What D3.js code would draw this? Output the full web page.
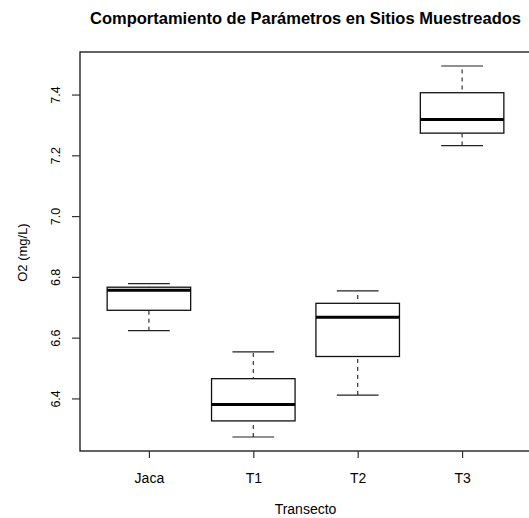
<!DOCTYPE html>
<html>
<head>
<meta charset="utf-8">
<script src="https://cdn.jsdelivr.net/npm/d3@7"></script>
<style>
  body { margin: 0; background: #fff; }
  text { font-family: "Liberation Sans", Arial, sans-serif; fill: #000; }
</style>
</head>
<body>
<div class="chart"></div>
<script>
// sites and five-number summaries
const sites = ["Jaca", "T1", "T2", "T3"];
const lowWhisker = [6.623, 6.273, 6.411, 7.232];
const q1 = [6.690, 6.326, 6.538, 7.273];
const medians = [6.756, 6.380, 6.667, 7.318];
const q3 = [6.766, 6.465, 6.713, 7.406];
const highWhisker = [6.778, 6.553, 6.754, 7.494];
const yTicks = [6.4, 6.6, 6.8, 7.0, 7.2, 7.4];

const width = 529, height = 518;
const margin = ({ top: 52, right: -2, bottom: 67, left: 80 });

const boxes = sites.map((s, i) => ({
    site: s, lo: lowWhisker[i], q1: q1[i], med: medians[i], q3: q3[i], hi: highWhisker[i]
}));

const svg = d3.select(".chart")
    .append("svg")
    .attr("width", width)
    .attr("height", height);

// R style: categories at 1..n, range 0.5..n+0.5 padded by 4%
const x = d3.scaleLinear()
    .domain([0.34, 4.66])
    .range([margin.left, width - margin.right]);

const y = d3.scaleLinear()
    .domain([6.227, 7.540])
    .range([height - margin.bottom, margin.top]);

const bw = (x(1.4) - x(0.6));

/*whiskers*/
svg.selectAll(".whisk")
    .data(boxes)
    .enter()
    .append("line")
    .attr("x1", (d, i) => x(i + 1))
    .attr("x2", (d, i) => x(i + 1))
    .attr("y1", d => y(d.lo))
    .attr("y2", d => y(d.hi))
    .attr("stroke", "#333")
    .attr("stroke-width", 1.2)
    .attr("stroke-dasharray", "4,4");

/*staples*/
["lo", "hi"].forEach(k => {
    svg.selectAll(".staple-" + k)
        .data(boxes)
        .enter()
        .append("line")
        .attr("x1", (d, i) => x(i + 1) - bw / 4)
        .attr("x2", (d, i) => x(i + 1) + bw / 4)
        .attr("y1", d => y(d[k]))
        .attr("y2", d => y(d[k]))
        .attr("stroke", "#222")
        .attr("stroke-width", 1.2);
});

/*boxes*/
svg.selectAll(".box")
    .data(boxes)
    .enter()
    .append("rect")
    .attr("x", (d, i) => x(i + 1) - bw / 2)
    .attr("y", d => y(d.q3))
    .attr("width", bw)
    .attr("height", d => y(d.q1) - y(d.q3))
    .attr("fill", "#fff")
    .attr("stroke", "#111")
    .attr("stroke-width", 1.3);

/*medians*/
svg.selectAll(".med")
    .data(boxes)
    .enter()
    .append("line")
    .attr("x1", (d, i) => x(i + 1) - bw / 2)
    .attr("x2", (d, i) => x(i + 1) + bw / 2)
    .attr("y1", d => y(d.med))
    .attr("y2", d => y(d.med))
    .attr("stroke", "#000")
    .attr("stroke-width", 3);

// frame
svg.append("rect")
    .attr("x", margin.left)
    .attr("y", margin.top)
    .attr("width", width - margin.right - margin.left)
    .attr("height", height - margin.bottom - margin.top)
    .attr("fill", "none")
    .attr("stroke", "#111")
    .attr("stroke-width", 1.3);

// axes
const xAxis = svg.append("g")
    .attr("transform", `translate(0,${height - margin.bottom})`)
    .call(d3.axisBottom(x).tickValues([1, 2, 3, 4]).tickSize(7).tickPadding(15)
        .tickFormat((d, i) => sites[i]));

const yAxis = svg.append("g")
    .attr("transform", `translate(${margin.left},0)`)
    .call(d3.axisLeft(y).tickValues(yTicks).tickSize(8).tickFormat(d3.format(".1f")));

[xAxis, yAxis].forEach(g => {
    g.select(".domain").remove();
    g.selectAll(".tick line").attr("stroke", "#333").attr("stroke-width", 1.2);
    g.selectAll("text").attr("fill", "#111")
        .style("font-family", '"Liberation Sans", Arial, sans-serif');
});
xAxis.selectAll("text").attr("font-size", "14px");
yAxis.selectAll("text").attr("font-size", "12.5px");

yAxis.selectAll(".tick text")
    .attr("x", null).attr("dy", null)
    .attr("text-anchor", "middle")
    .attr("transform", "translate(-20,0) rotate(-90)");

// titles
svg.append("text")
    .attr("x", x(2.5))
    .attr("y", 24)
    .attr("text-anchor", "middle")
    .attr("font-size", "16.5px")
    .attr("font-weight", "bold")
    .text("Comportamiento de Parámetros en Sitios Muestreados");

svg.append("text")
    .attr("x", x(2.5))
    .attr("y", 514)
    .attr("text-anchor", "middle")
    .attr("font-size", "14px")
    .text("Transecto");

svg.append("text")
    .attr("transform", `translate(27,${y(6.88)}) rotate(-90)`)
    .attr("text-anchor", "middle")
    .attr("font-size", "13px")
    .text("O2 (mg/L)");
</script>
</body>
</html>
